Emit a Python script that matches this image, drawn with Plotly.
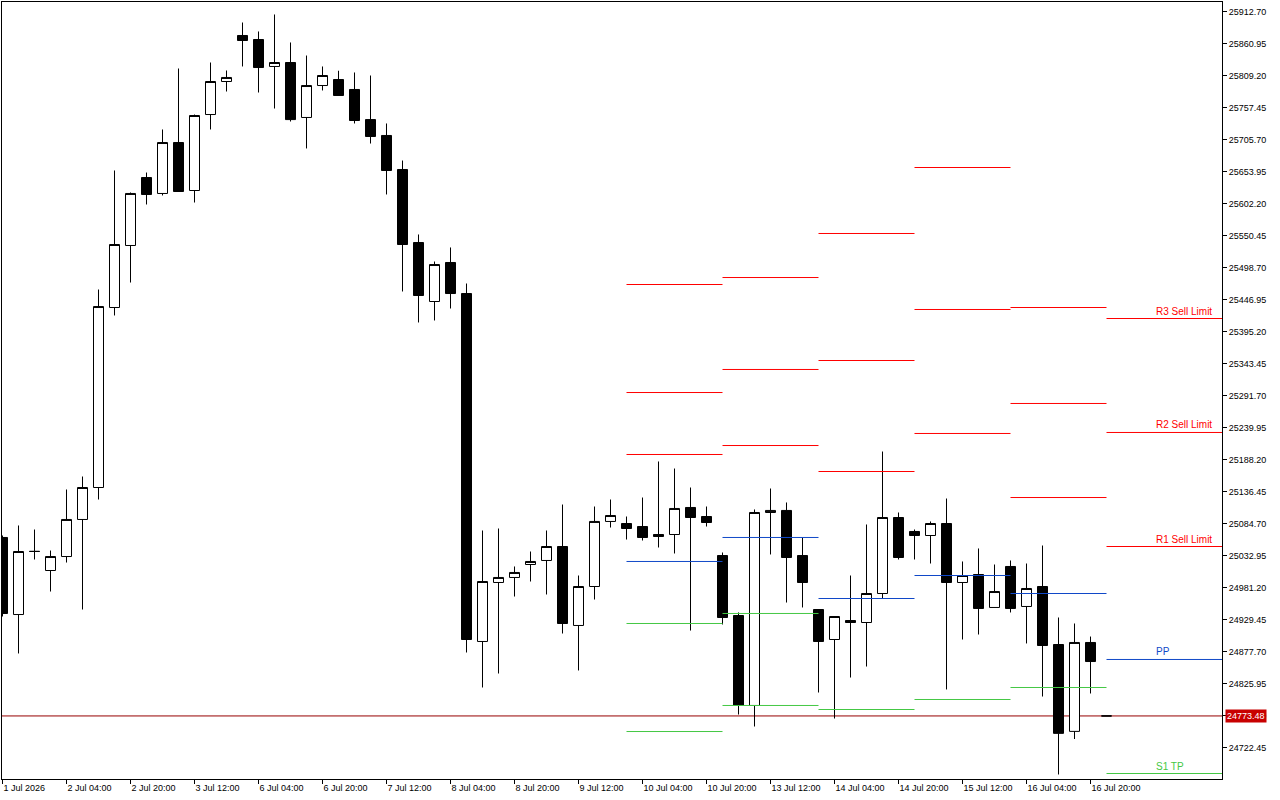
import plotly.graph_objects as go

# ---------------- data ----------------
trading_days = ["1 Jul", "2 Jul", "3 Jul", "6 Jul", "7 Jul", "8 Jul", "9 Jul",
                "10 Jul", "13 Jul", "14 Jul", "15 Jul", "16 Jul", "17 Jul"]
first_day_hours = [12, 16, 20]
day_hours = [0, 4, 8, 12, 16, 20]
last_day_hours = [0]

opens = [25062.1, 24937.5, 25039.4, 25008.7, 25031.3, 25091.2, 25142.9, 25434.0, 25534.3, 25644.2,
         25618.4, 25700.8, 25623.2, 25746.1, 25799.5, 25873.9, 25867.4, 25823.8, 25830.2, 25741.3,
         25793.0, 25802.7, 25786.6, 25737.9, 25712.2, 25657.2, 25539.1, 25443.7, 25506.8, 25456.6,
         24893.9, 24989.3, 24997.4, 25018.4, 25024.9, 25047.5, 24919.8, 24982.8, 25088.0, 25084.7,
         25079.8, 25066.9, 25066.9, 25110.6, 25096.0, 25032.9, 24935.9, 24790.4, 25102.5, 25105.8,
         25032.9, 24945.6, 24897.1, 24927.8, 24924.6, 24971.5, 25094.4, 25071.8, 25065.3, 25084.7,
         24989.3, 25002.2, 24948.9, 25015.2, 24950.5, 24982.8, 24889.0, 24748.5, 24892.3, 24773.48]
highs = [25065.3, 25081.5, 25075.0, 25041.0, 25139.7, 25160.7, 25463.1, 25655.6, 25620.0, 25652.3,
         25721.9, 25820.5, 25746.1, 25830.2, 25817.3, 25894.9, 25880.4, 25907.9, 25862.6, 25841.5,
         25823.8, 25816.9, 25814.1, 25809.2, 25731.6, 25671.7, 25552.1, 25508.4, 25531.1, 25472.8,
         25073.4, 25076.6, 25015.2, 25039.4, 25073.4, 25115.4, 25000.6, 25112.2, 25123.5, 25096.0,
         25126.7, 25185.0, 25173.6, 25142.9, 25112.2, 25037.8, 24940.8, 25107.4, 25141.3, 25118.7,
         25062.1, 24945.6, 24934.3, 25000.6, 25083.1, 25201.1, 25102.5, 25075.0, 25088.0, 25125.1,
         25023.3, 25044.3, 25018.4, 25024.9, 25020.0, 25049.1, 24932.7, 24923.0, 24901.9, 24773.48]
lows = [24934.3, 24874.5, 25026.5, 24974.7, 25021.6, 24945.6, 25123.5, 25421.1, 25474.4, 25600.6,
        25615.2, 25621.6, 25603.8, 25721.9, 25783.3, 25823.8, 25781.7, 25755.8, 25734.8, 25691.2,
        25785.0, 25776.9, 25731.6, 25699.2, 25616.8, 25459.9, 25409.8, 25413.0, 25432.4, 24876.1,
        24819.5, 24842.1, 24966.6, 24990.9, 24969.9, 24906.8, 24847.0, 24961.8, 25078.2, 25058.8,
        25057.2, 25045.9, 25036.2, 24911.6, 25079.8, 24921.4, 24775.8, 24756.4, 25034.6, 24956.9,
        24948.9, 24811.4, 24769.3, 24835.6, 24853.4, 24963.4, 25026.5, 25026.5, 25020.0, 24816.3,
        24897.1, 24905.2, 24948.9, 24940.8, 24890.7, 24804.9, 24678.8, 24736.2, 24809.8, 24773.48]
closes = [24939.2, 25039.4, 25039.6, 25031.3, 25091.2, 25142.9, 25435.6, 25535.9, 25618.4, 25616.8,
          25700.8, 25621.6, 25744.5, 25799.5, 25806.0, 25865.8, 25822.1, 25830.2, 25737.9, 25793.0,
          25809.2, 25776.9, 25736.4, 25710.6, 25655.6, 25535.9, 25453.4, 25503.5, 25456.6, 24897.1,
          24990.9, 24997.4, 25005.5, 25023.3, 25047.5, 24923.0, 24982.8, 25088.0, 25097.6, 25076.6,
          25062.1, 25063.7, 25109.0, 25094.4, 25086.3, 24932.7, 24790.4, 25102.5, 25105.8, 25029.7,
          24989.3, 24893.9, 24934.3, 24924.6, 24971.5, 25094.4, 25029.7, 25065.3, 25084.7, 24989.3,
          25000.6, 24947.3, 24974.7, 24947.3, 24979.6, 24887.4, 24745.3, 24892.3, 24861.5, 24773.48]

current_price = 24773.48

# daily pivot levels ; None = off chart
pivot_days = ["10 Jul", "13 Jul", "14 Jul", "15 Jul", "16 Jul", "17 Jul"]
pivot_r3 = [25471.2, 25482.5, 25553.7, 25660.4, 25434.0, 25416.2]
pivot_r2 = [25296.5, 25333.8, 25348.3, 25430.8, 25278.8, 25231.9]
pivot_r1 = [25196.3, 25210.8, 25168.8, 25230.3, 25126.7, 25047.5]
pivot_pp = [25023.3, 25062.1, 24963.4, 25000.6, 24971.5, 24864.8]
pivot_s1 = [24923.0, 24939.2, 24783.9, 24800.1, 24819.5, 24680.4]
pivot_s2 = [24748.3, 24790.4, None, None, None, None]

level_labels = {"R3": "R3 Sell Limit", "R2": "R2 Sell Limit", "R1": "R1 Sell Limit",
                "PP": "PP", "S1": "S1 TP"}

y_tick_start = 25912.70
y_tick_step = 51.75
y_tick_count = 24
x_tick_labels = ["1 Jul 2026", "2 Jul 04:00", "2 Jul 20:00", "3 Jul 12:00", "6 Jul 04:00",
                 "6 Jul 20:00", "7 Jul 12:00", "8 Jul 04:00", "8 Jul 20:00", "9 Jul 12:00",
                 "10 Jul 04:00", "10 Jul 20:00", "13 Jul 12:00", "14 Jul 04:00", "14 Jul 20:00",
                 "15 Jul 12:00", "16 Jul 04:00", "16 Jul 20:00"]

# ---------------- build ----------------
candle_day = []
candle_time = []
for i, d in enumerate(trading_days):
    hrs = first_day_hours if i == 0 else (last_day_hours if i == len(trading_days) - 1 else day_hours)
    for h in hrs:
        candle_day.append(d)
        candle_time.append(f"{d} {h:02d}:00")
idx = list(range(len(candle_time)))

X_MIN, X_MAX = -0.03125, 76.21875
Y_MIN, Y_MAX = 24671.51, 25928.06

RED = "#FF0000"
BLUE = "#1048C8"
GREEN = "#44C844"
PRICE_RED = "#960000"
FONT = "Liberation Sans"

fig = go.Figure()

def seg_bounds(k):
    start = candle_day.index(pivot_days[k])
    if k + 1 < len(pivot_days):
        end = candle_day.index(pivot_days[k + 1])
    else:
        end = X_MAX
    return start, end

groups = [(RED, [pivot_r3, pivot_r2, pivot_r1]), (BLUE, [pivot_pp]), (GREEN, [pivot_s1, pivot_s2])]
for color, levels in groups:
    xs, ys = [], []
    for arr in levels:
        for k in range(len(pivot_days)):
            if arr[k] is None:
                continue
            s, e = seg_bounds(k)
            xs += [s, e, None]
            ys += [arr[k], arr[k], None]
    fig.add_trace(go.Scatter(x=xs, y=ys, mode="lines", line=dict(color=color, width=1),
                             hoverinfo="skip", showlegend=False))

fig.add_hline(y=current_price, line=dict(color=PRICE_RED, width=1), layer="below")

fig.add_trace(go.Candlestick(
    x=idx, open=opens, high=highs, low=lows, close=closes,
    increasing=dict(line=dict(color="black", width=1), fillcolor="white"),
    decreasing=dict(line=dict(color="black", width=1), fillcolor="black"),
    whiskerwidth=0, showlegend=False, hoverinfo="skip"))

last = len(pivot_days) - 1
label_x = candle_day.index(pivot_days[last]) + 3
for key, arr, col in [("R3", pivot_r3, RED), ("R2", pivot_r2, RED), ("R1", pivot_r1, RED),
                      ("PP", pivot_pp, BLUE), ("S1", pivot_s1, GREEN)]:
    fig.add_annotation(x=label_x, y=arr[last], text=level_labels[key], showarrow=False,
                       xanchor="left", yanchor="bottom", font=dict(family=FONT, size=10, color=col),
                       borderpad=0, yshift=1)

fig.add_annotation(x=1, xref="paper", y=current_price, text=f"{current_price:.2f}", showarrow=False,
                   xanchor="left", yanchor="middle", xshift=3, bgcolor="#C80000",
                   font=dict(family=FONT, size=9, color="white"), borderpad=1)

y_ticks = [round(y_tick_start - k * y_tick_step, 2) for k in range(y_tick_count)]
x_ticks = list(range(0, len(idx), 4))[:len(x_tick_labels)]

fig.update_layout(
    width=1280, height=800,
    margin=dict(l=2, r=58, t=2, b=21, pad=0),
    paper_bgcolor="white", plot_bgcolor="white",
    boxgap=0.375, boxgroupgap=0,
    xaxis=dict(range=[X_MIN, X_MAX], showgrid=False, zeroline=False, showline=True, mirror=True,
               linecolor="black", linewidth=1, ticks="outside", ticklen=4, tickcolor="black",
               tickvals=x_ticks, ticktext=x_tick_labels, ticklabelposition="outside right",
               tickfont=dict(family=FONT, size=9, color="black"), rangeslider=dict(visible=False),
               fixedrange=True),
    yaxis=dict(range=[Y_MIN, Y_MAX], side="right", showgrid=False, zeroline=False, showline=True,
               mirror=True, linecolor="black", linewidth=1, ticks="outside", ticklen=4,
               tickcolor="black", tickvals=y_ticks, ticktext=[f"{v:.2f}" for v in y_ticks],
               tickfont=dict(family=FONT, size=9, color="black"), fixedrange=True),
    showlegend=False,
)

fig.write_html("out.html", config={"displayModeBar": False},
               post_script="document.body.style.margin='0';")
